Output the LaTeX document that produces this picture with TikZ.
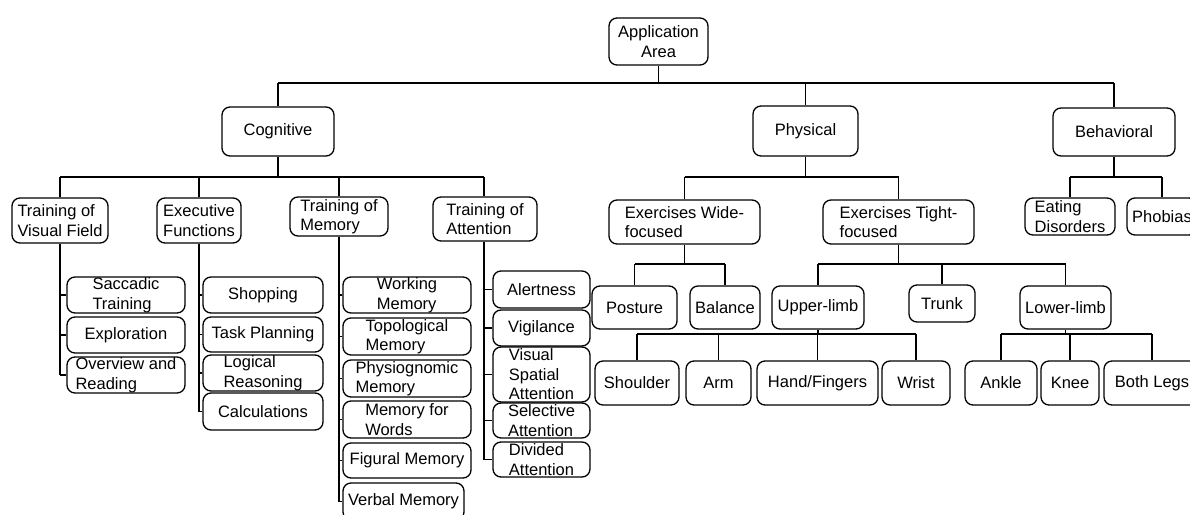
\documentclass[tikz,border=0pt]{standalone}
\usepackage{fontspec}
\setmainfont{Liberation Sans}
\begin{document}
\begin{tikzpicture}[x=1pt,y=-1pt,
  box/.style={draw, line width=1.3pt, rounded corners=8pt, inner sep=0pt,
    align=left, font=\fontsize{16.5}{19.5}\selectfont},
  link/.style={line width=1.3pt}]
\useasboundingbox (0,0) rectangle (1190,514);
% box helper: name, centre x, centre y, width, height, text
\newcommand\bx[6]{\node[box, minimum width=#4pt, minimum height=#5pt] (#1) at (#2,#3) {#6};}

% top levels
\node[box, align=center, minimum width=99pt, minimum height=47pt] (root) at (658.5,41.5) {Application\\Area};
\bx{cog}{278}{131.5}{112}{49}{Cognitive}
\bx{phy}{805.5}{131}{105}{50}{Physical}
\bx{beh}{1114}{132}{122}{48}{Behavioral}

% cognitive branches
\bx{tvf}{60}{220.5}{96}{45}{Training of\\Visual Field}
\bx{exf}{199}{220.5}{84}{45}{Executive\\Functions}
\bx{tmem}{339}{216.5}{98}{39}{Training of\\Memory}
\bx{tatt}{485}{219}{104}{44}{Training of\\Attention}

\bx{sac}{126}{295}{118}{36}{Saccadic\\Training}
\bx{expl}{126}{335}{118}{36}{Exploration}
\bx{ovr}{126}{375}{118}{36}{Overview and\\Reading}

\bx{shop}{263}{295}{120}{36}{Shopping}
\bx{task}{263}{334.5}{120}{35}{Task Planning}
\bx{logi}{263}{373}{120}{36}{Logical\\Reasoning}
\bx{calc}{263}{411.5}{120}{37}{Calculations}

\bx{work}{407}{295}{128}{36}{Working\\Memory}
\bx{topo}{407}{336.5}{128}{37}{Topological\\Memory}
\bx{phys}{407}{378.5}{128}{37}{Physiognomic\\Memory}
\bx{mfw}{407}{419.5}{128}{37}{Memory for\\Words}
\bx{fig}{407}{460.5}{128}{35}{Figural Memory}
\bx{verb}{403.5}{501.5}{121}{37}{Verbal Memory}

\bx{alert}{541.5}{289.5}{97}{37}{Alertness}
\bx{vig}{541.5}{328}{97}{36}{Vigilance}
\bx{vsa}{541.5}{374.5}{97}{55}{Visual\\Spatial\\Attention}
\bx{sel}{541.5}{420.5}{97}{35}{Selective\\Attention}
\bx{div}{541.5}{459.5}{97}{35}{Divided\\Attention}

% physical branches
\bx{wide}{684.5}{222}{151}{44}{Exercises Wide-\\focused}
\bx{tight}{898.5}{222}{151}{44}{Exercises Tight-\\focused}
\bx{post}{634.5}{307.5}{85}{43}{Posture}
\bx{bal}{725}{307.5}{70}{43}{Balance}
\bx{up}{818}{307.5}{92}{43}{Upper-limb}
\bx{trunk}{942}{303.5}{66}{37}{Trunk}
\bx{low}{1065.5}{307.5}{91}{43}{Lower-limb}
\bx{shou}{637}{383}{84}{44}{Shoulder}
\bx{arm}{718.5}{383}{65}{44}{Arm}
\bx{hand}{817.5}{383}{121}{44}{Hand/Fingers}
\bx{wri}{916}{383}{68}{44}{Wrist}
\bx{ank}{1001}{383}{72}{44}{Ankle}
\bx{knee}{1070}{383}{58}{44}{Knee}
\bx{both}{1152}{383}{96}{44}{Both Legs}

% behavioral branches
\bx{eat}{1070}{216.5}{90}{37}{Eating\\Disorders}
\bx{phob}{1162}{216.5}{70}{37}{Phobias}

% bar levels
\coordinate (topbar) at (0,83);
\coordinate (lvtwo) at (0,177);
\coordinate (lvthree) at (0,264);
\coordinate (lvfour) at (0,334);

% tree connectors
\draw[link] (root.south) -- (root.south |- topbar);
\draw[link] (cog.north |- topbar) -- (beh.north |- topbar);
\foreach \c in {cog,phy,beh} \draw[link] (\c.north) -- (\c.north |- topbar);

\draw[link] (cog.south) -- (cog.south |- lvtwo);
\draw[link] (tvf.north |- lvtwo) -- ([xshift=-1pt]tatt.north |- lvtwo);
\foreach \c in {tvf,exf,tmem} \draw[link] (\c.north) -- (\c.north |- lvtwo);
\draw[link] ([xshift=-1pt]tatt.north) -- ([xshift=-1pt]tatt.north |- lvtwo);

\draw[link] (phy.south) -- (phy.south |- lvtwo);
\draw[link] (wide.north |- lvtwo) -- (tight.north |- lvtwo);
\foreach \c in {wide,tight} \draw[link] (\c.north) -- (\c.north |- lvtwo);

\draw[link] (beh.south) -- (beh.south |- lvtwo);
\draw[link] (eat.north |- lvtwo) -- (phob.north |- lvtwo);
\foreach \c in {eat,phob} \draw[link] (\c.north) -- (\c.north |- lvtwo);

\draw[link] (wide.south) -- (wide.south |- lvthree);
\draw[link] (post.north |- lvthree) -- (bal.north |- lvthree);
\foreach \c in {post,bal} \draw[link] (\c.north) -- (\c.north |- lvthree);

\draw[link] (tight.south) -- (tight.south |- lvthree);
\draw[link] (up.north |- lvthree) -- (low.north |- lvthree);
\foreach \c in {up,trunk,low} \draw[link] (\c.north) -- (\c.north |- lvthree);

\draw[link] (up.south) -- (up.south |- lvfour);
\draw[link] (shou.north |- lvfour) -- (wri.north |- lvfour);
\foreach \c in {shou,arm,hand,wri} \draw[link] (\c.north) -- (\c.north |- lvfour);

\draw[link] (low.south) -- (low.south |- lvfour);
\draw[link] (ank.north |- lvfour) -- (both.north |- lvfour);
\foreach \c in {ank,knee,both} \draw[link] (\c.north) -- (\c.north |- lvfour);

% vertical lists under the cognitive branches
\draw[link] (tvf.south) -- (tvf.south |- ovr.west);
\foreach \c in {sac,expl,ovr} \draw[link] (\c.west) -- (\c.west -| tvf.south);
\draw[link] (exf.south) -- (exf.south |- calc.west);
\foreach \c in {shop,task,logi,calc} \draw[link] (\c.west) -- (\c.west -| exf.south);
\draw[link] (tmem.south) -- (tmem.south |- verb.west);
\foreach \c in {work,topo,phys,mfw,fig,verb} \draw[link] (\c.west) -- (\c.west -| tmem.south);
\draw[link] ([xshift=-1pt]tatt.south) -- ([xshift=-1pt]tatt.south |- div.west);
\foreach \c in {alert,vig,vsa,sel,div} \draw[link] (\c.west) -- ([xshift=-1pt]\c.west -| tatt.south);
\end{tikzpicture}
\end{document}
